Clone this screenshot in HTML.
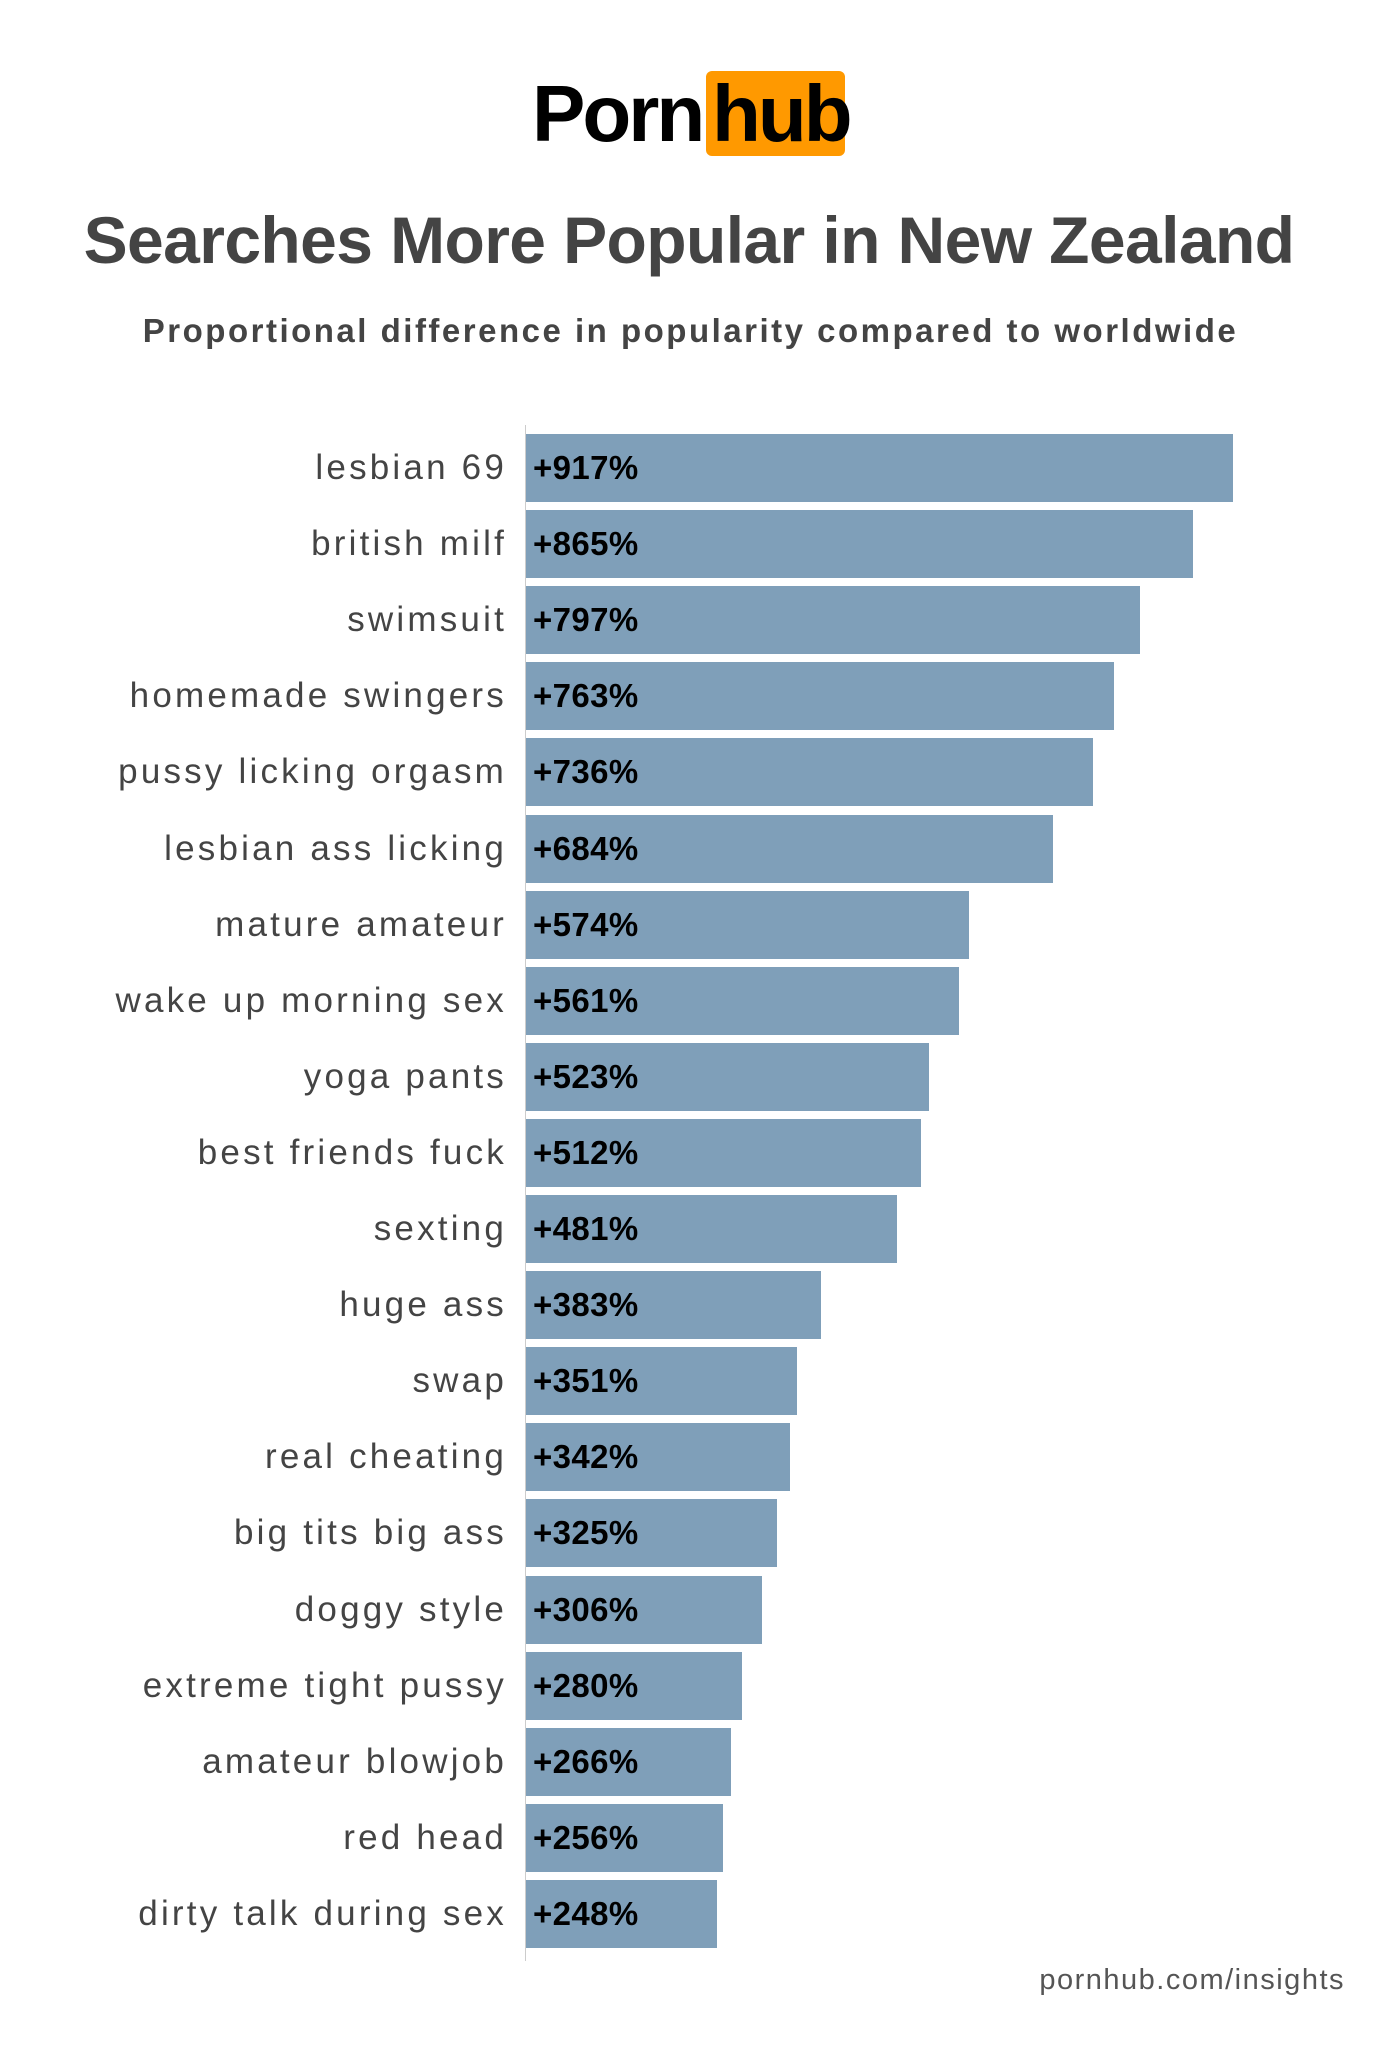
<!DOCTYPE html>
<html><head><meta charset="utf-8"><style>
body{margin:0;width:1400px;height:2060px;background:#fff;font-family:"Liberation Sans",sans-serif;position:relative;overflow:hidden}
.a{position:absolute}
.lab{position:absolute;right:893px;font-size:35px;color:#444;line-height:68px;white-space:nowrap;letter-spacing:3.2px}
.bar{position:absolute;left:526px;height:68px;background:#7f9fb9}
.val{position:absolute;left:533px;font-size:33px;font-weight:bold;color:#000;line-height:68px;letter-spacing:0.4px}
</style></head><body>
<div class="a" style="left:532px;top:66px;font-size:80px;font-weight:bold;letter-spacing:-3px;color:#000;line-height:96px">Porn</div>
<div class="a" style="left:706px;top:71px;width:139px;height:85px;background:#ff9900;border-radius:6px"></div>
<div class="a" style="left:712px;top:66px;font-size:80px;font-weight:bold;letter-spacing:-3px;color:#000;line-height:96px">hub</div>
<div class="a" style="left:0;width:1378px;text-align:center;top:200px;font-size:66px;font-weight:bold;color:#444;letter-spacing:-0.6px;line-height:80px">Searches More Popular in New Zealand</div>
<div class="a" style="left:0;width:1381px;text-align:center;top:310px;font-size:33px;font-weight:bold;color:#444;line-height:42px;letter-spacing:2.5px">Proportional difference in popularity compared to worldwide</div>
<div class="a" style="left:525px;top:425px;width:1px;height:1536px;background:#ccc"></div>
<div id="c"></div>
<div class="a" style="right:55px;top:1964px;font-size:29px;color:#555;letter-spacing:1.5px">pornhub.com/insights</div>
<script>
var d=[["lesbian 69",917],["british milf",865],["swimsuit",797],["homemade swingers",763],["pussy licking orgasm",736],["lesbian ass licking",684],["mature amateur",574],["wake up morning sex",561],["yoga pants",523],["best friends fuck",512],["sexting",481],["huge ass",383],["swap",351],["real cheating",342],["big tits big ass",325],["doggy style",306],["extreme tight pussy",280],["amateur blowjob",266],["red head",256],["dirty talk during sex",248]];
var h="";d.forEach(function(r,i){var t=434+i*76.1;
h+='<div class="lab" style="top:'+t+'px">'+r[0]+'</div><div class="bar" style="top:'+t+'px;width:'+(r[1]*0.771)+'px"></div><div class="val" style="top:'+t+'px">+'+r[1]+'%</div>';});
document.getElementById("c").innerHTML=h;
</script>
</body></html>
